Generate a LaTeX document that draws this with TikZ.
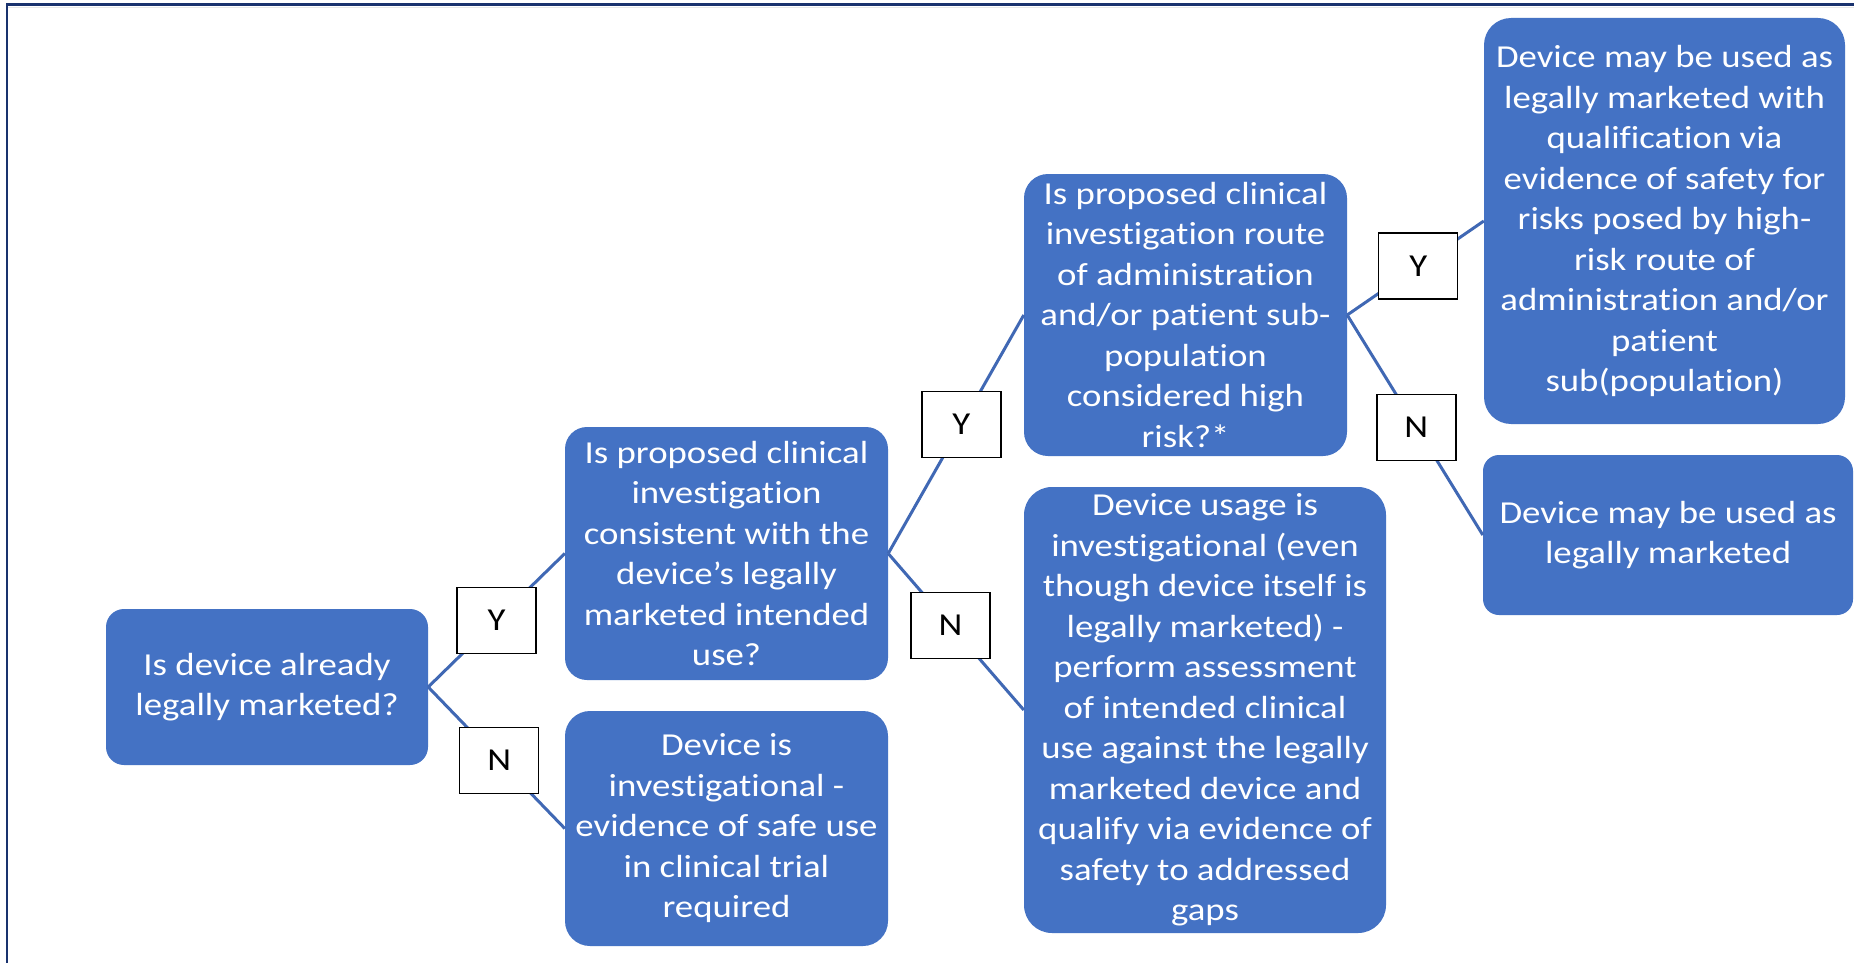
\documentclass[tikz,border=0pt]{standalone}
\usepackage{fontspec}
\setmainfont{Carlito}[FakeStretch=1.15, Ligatures=NoCommon, Contextuals=NoAlternate, RawFeature={-liga;-calt;-dlig}]
\definecolor{boxblue}{HTML}{4472C4}
\definecolor{linkblue}{RGB}{64,104,180}
\definecolor{framenavy}{RGB}{25,50,110}
\begin{document}
\begin{tikzpicture}[x=1pt,y=-1pt,
  decision/.style={fill=boxblue, text=white, inner sep=0pt, align=center,
    font=\fontsize{32}{40.5}\selectfont},
  answer/.style={draw=black, fill=white, text=black, line width=1.3pt,
    minimum width=79pt, minimum height=66pt, inner sep=0pt,
    font=\fontsize{32}{40.5}\selectfont},
  link/.style={draw=linkblue, line width=3pt}]
\useasboundingbox (0,0) rectangle (1854,963);
\fill[white] (0,0) rectangle (1854,963);
% page frame (top and left edges)
\draw[gray!18, line width=1pt] (8,7.8) -- (1860,7.8);
\draw[framenavy, line width=2.2pt] (7,975) -- (7,4.5) -- (1870,4.5);

% decision and outcome boxes
\node[decision, minimum width=322pt, minimum height=156pt, rounded corners=18pt] (q1) at (267,687)
  {Is device already\\legally marketed?};
\node[decision, minimum width=323pt, minimum height=253pt, rounded corners=22pt] (q2) at (726.5,553.5)
  {Is proposed clinical\\investigation\\consistent with the\\device’s legally\\marketed intended\\use?};
\node[decision, minimum width=323pt, minimum height=235pt, rounded corners=25pt] (o1) at (726.5,828.5)
  {Device is\\investigational -\\evidence of safe use\\in clinical trial\\required};
\node[decision, minimum width=323pt, minimum height=282pt, rounded corners=24pt] (q3) at (1185.5,315)
  {Is proposed clinical\\investigation route\\of administration\\and/or patient sub-\\population\\considered high\\risk?*};
\node[decision, minimum width=362pt, minimum height=446pt, rounded corners=28pt] (o2) at (1205,710)
  {Device usage is\\investigational (even\\though device itself is\\legally marketed) -\\perform assessment\\of intended clinical\\use against the legally\\marketed device and\\qualify via evidence of\\safety to addressed\\gaps};
\node[decision, minimum width=361pt, minimum height=406pt, rounded corners=27pt] (o3) at (1664.5,221)
  {Device may be used as\\legally marketed with\\qualification via\\evidence of safety for\\risks posed by high-\\risk route of\\administration and/or\\patient\\sub(population)};
\node[decision, minimum width=370pt, minimum height=160pt, rounded corners=16pt] (o4) at (1668,535)
  {Device may be used as\\legally marketed};

% branches with Y/N answers
\path[link] (q1.east) -- node[answer, pos=0.50] {Y} (q2.west);
\path[link] (q1.east) -- node[answer, pos=0.52] {N} (o1.west);
\path[link] (q2.east) -- node[answer, pos=0.54] {Y} (q3.west);
\path[link] (q2.east) -- node[answer, pos=0.46] {N} (o2.west);
\path[link] (q3.east) -- node[answer, pos=0.52] {Y} (o3.west);
\path[link] (q3.east) -- node[answer, pos=0.51] {N} (o4.west);
\end{tikzpicture}
\end{document}
